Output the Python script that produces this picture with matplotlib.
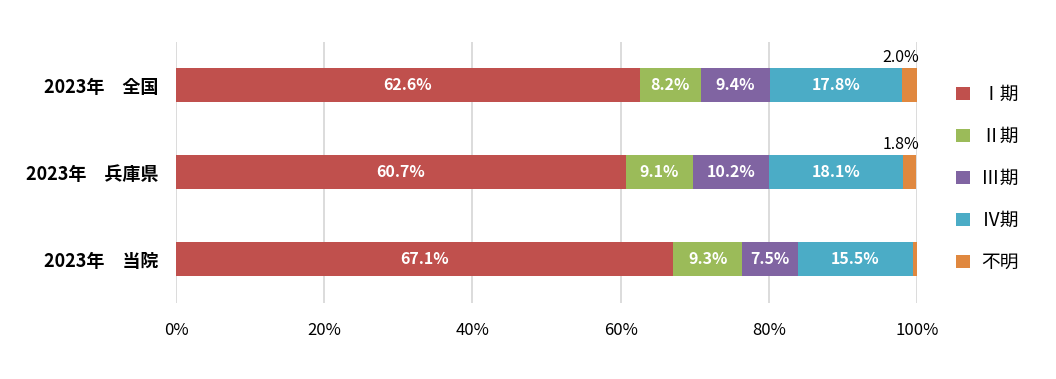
import matplotlib
matplotlib.use("Agg")
import matplotlib.pyplot as plt
import numpy as np

plt.rcParams["font.family"] = ["Noto Sans CJK JP", "DejaVu Sans"]

categories = ["2023年　全国", "2023年　兵庫県", "2023年　当院"]
stages = ["Ⅰ期", "Ⅱ期", "Ⅲ期", "Ⅳ期", "不明"]
stage1 = [62.6, 60.7, 67.1]
stage2 = [8.2, 9.1, 9.3]
stage3 = [9.4, 10.2, 7.5]
stage4 = [17.8, 18.1, 15.5]
unknown = [2.0, 1.8, 0.6]
colors = ["#C0504D", "#9BBB59", "#8064A2", "#4BACC6", "#E0883F"]

series = [stage1, stage2, stage3, stage4, unknown]

fig = plt.figure(figsize=(10.56, 3.79), dpi=100)
ax = fig.add_axes([0.1667, 0.2018, 0.7017, 0.6887])

y = np.arange(len(categories))
left = np.zeros(len(categories))
for vals, name, c in zip(series, stages, colors):
    vals = np.array(vals)
    ax.barh(y, vals, left=left, height=0.39, color=c, label=name, zorder=3)
    if name != "不明":
        for yi, l, v in zip(y, left, vals):
            ax.text(l + v / 2, yi, f"{v:.1f}%", ha="center", va="center",
                    color="white", fontsize=11.5, fontweight="bold", zorder=4)
    else:
        for yi, l, v in zip(y, left, vals):
            if v >= 1.0:
                ax.text(100.3, yi - 0.22, f"{v:.1f}%", ha="right", va="bottom",
                        color="black", fontsize=11.5)
    left += vals

ax.set_xlim(0, 100)
ax.set_ylim(2.5, -0.5)
ax.set_yticks(y)
ax.set_yticklabels(categories, fontsize=13, fontweight="bold")
ax.set_xticks(np.arange(0, 101, 20))
ax.set_xticklabels([f"{v}%" for v in range(0, 101, 20)], fontsize=12)
ax.tick_params(axis="y", length=0, pad=13)
ax.tick_params(axis="x", length=0, pad=14)
ax.grid(axis="x", color="#D9D9D9", linewidth=1.3, zorder=0)
for s in ax.spines.values():
    s.set_visible(False)

ax.legend(loc="center left", bbox_to_anchor=(1.03, 0.475), frameon=False,
          fontsize=13.5, handlelength=0.75, handleheight=0.75,
          labelspacing=1.12, handletextpad=0.6)

fig.savefig("out.png", dpi=100, facecolor="white")
